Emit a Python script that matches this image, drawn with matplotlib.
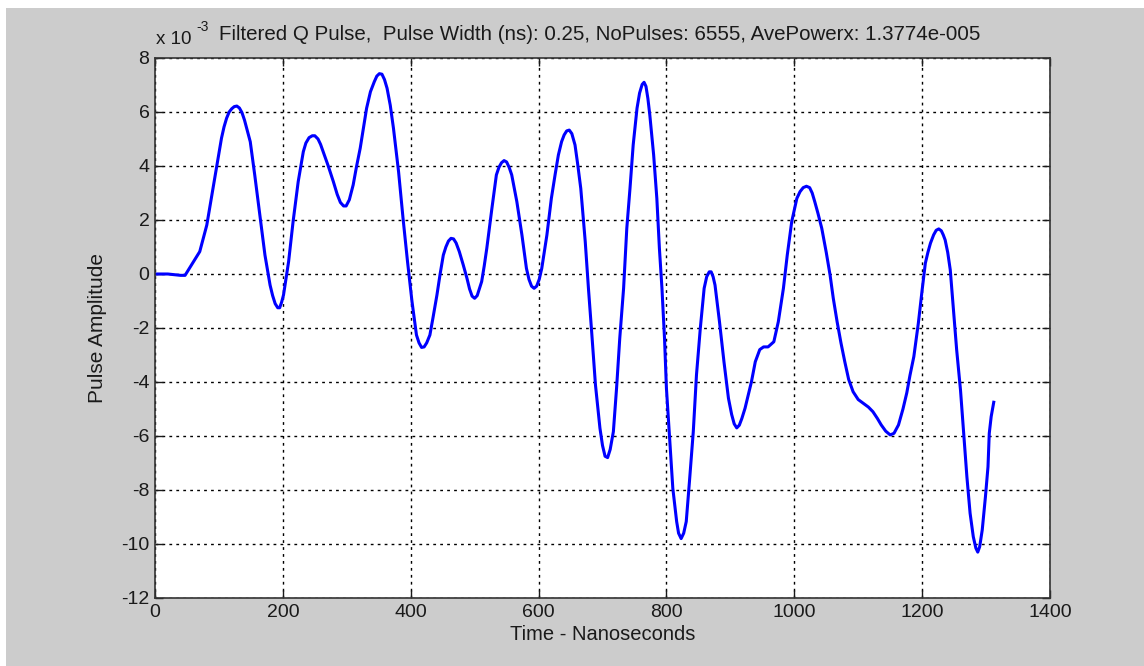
import matplotlib
matplotlib.use("Agg")
import matplotlib.pyplot as plt

# Filtered Q pulse (amplitude in units of 1e-3)
time_ns = [0, 20, 40, 47, 57, 70, 81, 89, 97, 104,
           108, 112, 116, 120, 124, 128, 132, 136, 140, 144,
           149, 156, 164, 172, 180, 184, 188, 192, 195, 198,
           201, 209, 216, 224, 232, 236, 241, 246, 250, 255,
           259, 263, 271, 279, 285, 290, 295, 299, 304, 310,
           315, 321, 326, 331, 337, 343, 347, 351, 355, 359,
           363, 368, 373, 381, 388, 395, 402, 409, 413, 417,
           421, 425, 430, 435, 441, 446, 451, 455, 459, 463,
           467, 471, 476, 482, 488, 492, 496, 500, 504, 508,
           511, 515, 519, 527, 534, 538, 542, 546, 550, 554,
           558, 566, 574, 581, 585, 589, 593, 597, 601, 605,
           613, 620, 626, 631, 636, 640, 644, 648, 652, 657,
           661, 666, 673, 678, 683, 689, 696, 700, 704, 708,
           712, 717, 722, 727, 733, 738, 743, 748, 754, 758,
           762, 765, 768, 771, 774, 780, 785, 789, 793, 797,
           800, 805, 810, 816, 819, 823, 827, 831, 836, 842,
           847, 853, 859, 863, 867, 870, 873, 876, 883, 890,
           897, 902, 906, 910, 914, 918, 923, 933, 939, 946,
           952, 959, 968, 975, 983, 989, 996, 1004, 1009, 1014,
           1019, 1024, 1028, 1032, 1037, 1043, 1050, 1056, 1061, 1067,
           1073, 1079, 1085, 1092, 1100, 1108, 1116, 1123, 1130, 1136,
           1143, 1150, 1156, 1163, 1170, 1176, 1181, 1187, 1194, 1200,
           1205, 1209, 1213, 1218, 1222, 1226, 1230, 1233, 1236, 1240,
           1244, 1249, 1254, 1260, 1265, 1270, 1275, 1280, 1284, 1287,
           1290, 1294, 1299, 1303, 1305, 1308, 1312]
amplitude = [0, 0, -0.05, -0.05, 0.33, 0.83, 1.81, 2.93, 4.04, 5.03,
             5.45, 5.77, 6.0, 6.12, 6.2, 6.22, 6.15, 5.98, 5.7, 5.35,
             4.9, 3.67, 2.19, 0.7, -0.41, -0.8, -1.1, -1.25, -1.25, -1.05,
             -0.78, 0.46, 1.94, 3.42, 4.53, 4.85, 5.05, 5.12, 5.12, 5.0,
             4.8, 4.53, 4.0, 3.42, 2.95, 2.65, 2.52, 2.52, 2.75, 3.3,
             3.95, 4.66, 5.4, 6.14, 6.75, 7.12, 7.33, 7.42, 7.4, 7.2,
             6.88, 6.25, 5.4, 3.79, 2.06, 0.46, -1.02, -2.26, -2.55, -2.72,
             -2.7, -2.55, -2.26, -1.6, -0.78, 0.0, 0.7, 1.0, 1.22, 1.32,
             1.3, 1.15, 0.83, 0.35, -0.16, -0.55, -0.82, -0.9, -0.8, -0.5,
             -0.28, 0.3, 0.95, 2.43, 3.67, 3.95, 4.12, 4.2, 4.15, 3.95,
             3.67, 2.68, 1.44, 0.21, -0.2, -0.45, -0.53, -0.45, -0.2, 0.21,
             1.44, 2.8, 3.7, 4.41, 4.9, 5.15, 5.3, 5.33, 5.2, 4.78,
             4.1, 3.17, 1.2, -0.53, -2.13, -4.11, -5.71, -6.35, -6.75, -6.8,
             -6.5, -5.84, -4.23, -2.38, -0.53, 1.69, 3.17, 4.78, 6.14, 6.7,
             7.02, 7.1, 6.95, 6.5, 5.89, 4.41, 2.8, 0.95, -0.53, -2.38,
             -4.23, -6.09, -7.94, -9.17, -9.6, -9.8, -9.6, -9.17, -7.69, -5.84,
             -3.74, -2.01, -0.53, -0.1, 0.08, 0.08, -0.1, -0.41, -1.77, -3.25,
             -4.6, -5.2, -5.55, -5.7, -5.6, -5.35, -4.97, -3.99, -3.25, -2.8,
             -2.7, -2.7, -2.51, -1.77, -0.53, 0.7, 1.94, 2.8, 3.05, 3.2,
             3.25, 3.2, 3.0, 2.68, 2.25, 1.69, 0.8, -0.04, -0.9, -1.77,
             -2.55, -3.25, -3.9, -4.36, -4.65, -4.79, -4.93, -5.1, -5.35, -5.59,
             -5.82, -5.96, -5.9, -5.59, -5.0, -4.4, -3.75, -3.06, -1.83, -0.59,
             0.4, 0.8, 1.14, 1.45, 1.62, 1.67, 1.6, 1.45, 1.26, 0.8,
             0.15, -1.33, -2.81, -4.3, -5.9, -7.51, -8.86, -9.73, -10.15, -10.3,
             -10.1, -9.48, -8.25, -7.14, -5.9, -5.28, -4.75]
assert len(time_ns) == len(amplitude)

x_ticks = [0, 200, 400, 600, 800, 1000, 1200, 1400]
y_ticks = [-12, -10, -8, -6, -4, -2, 0, 2, 4, 6, 8]

title = "Filtered Q Pulse,  Pulse Width (ns): 0.25, NoPulses: 6555, AvePowerx: 1.3774e-005"

plt.rcParams['font.family'] = ['Liberation Sans', 'DejaVu Sans']
plt.rcParams['axes.unicode_minus'] = False

W, H = 1144, 666
TXT = '#1a1a1a'
fig = plt.figure(figsize=(W / 100, H / 100), dpi=100, facecolor='#cccccc')

# white strips on top and left edge of the screenshot
fig.patches.append(plt.Rectangle((0, 1 - 8 / H), 1, 8 / H, transform=fig.transFigure,
                                 facecolor='white', edgecolor='none', zorder=-1))
fig.patches.append(plt.Rectangle((0, 0), 6 / W, 1, transform=fig.transFigure,
                                 facecolor='white', edgecolor='none', zorder=-1))

ax = fig.add_axes([155 / W, 1 - 598 / H, 895 / W, 540 / H])
ax.set_facecolor('white')
ax.plot(time_ns, amplitude, color='#0000ff', lw=2.2, solid_joinstyle='round')

ax.set_xlim(0, 1400)
ax.set_ylim(-12, 8)
ax.set_xticks(x_ticks)
ax.set_yticks(y_ticks)
ax.tick_params(direction='in', length=6, width=1, top=True, right=True,
               labelsize=14, colors=TXT, pad=4)
for s in ax.spines.values():
    s.set_color('#333333')
    s.set_linewidth(1.2)

ax.grid(True, color='black', linestyle=(0, (2, 3)), linewidth=1)

ax.set_xlabel("Time - Nanoseconds", fontsize=14.5, color=TXT, labelpad=3)
ax.set_ylabel("Pulse Amplitude", fontsize=15, color=TXT, labelpad=10)

# MATLAB style exponent label and title
fig.text(156 / W, 1 - 40 / H, "x 10", fontsize=13.5, color=TXT, ha='left', va='center')
fig.text(196 / W, 1 - 27 / H, "-3", fontsize=10, color=TXT, ha='left', va='center')
fig.text(600 / W, 1 - 35 / H, title, fontsize=14.8, color=TXT,
         ha='center', va='center')

fig.savefig("out.png", dpi=100, facecolor=fig.get_facecolor())
